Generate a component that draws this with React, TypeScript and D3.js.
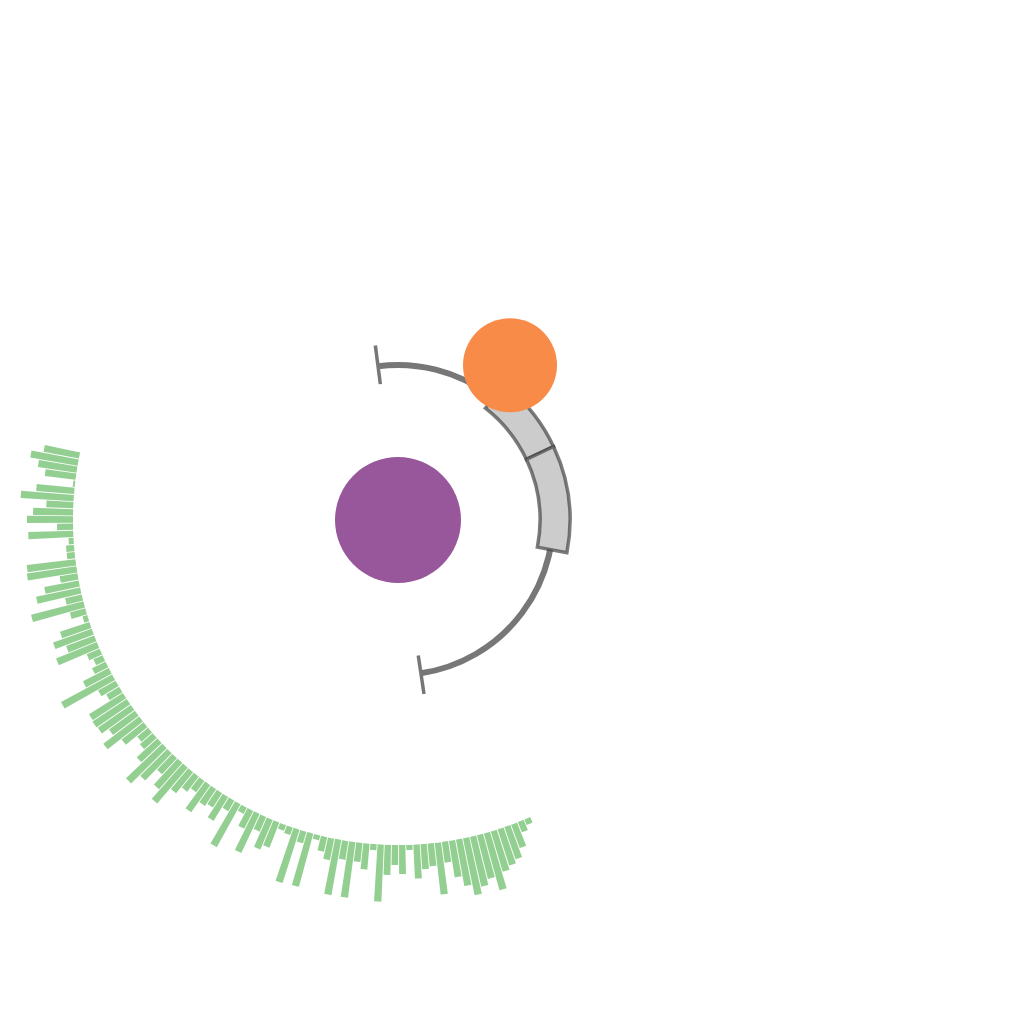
import * as d3 from "d3";

const W = 1024;
const H = 1024;
const CX = 398;
const CY = 520;

// radial bars, clockwise from bottom-right to upper-left
const barValues = [
	6, 11, 25, 34, 38, 42, 59, 45, 51, 58,
	47, 37, 21, 52, 23, 25, 34, 5, 29, 20,
	30, 57, 6, 26, 19, 56, 19, 56, 22, 15,
	5, 55, 12, 56, 8, 6, 27, 32, 16, 43,
	20, 7, 49, 12, 28, 17, 20, 33, 14, 19,
	27, 47, 35, 22, 38, 50, 28, 17, 14, 28,
	45, 32, 40, 41, 40, 15, 20, 58, 29, 15,
	10, 14, 44, 30, 41, 31, 5, 16, 54, 17,
	45, 35, 18, 50, 49, 8, 8, 5, 45, 16,
	46, 40, 27, 53, 38, 2, 31, 39, 48, 36,
];
const barAngleRange = [156, 282]; // degrees

// range arc with end caps
const rangeStart = -7.4;
const rangeEnd = 171.5;

// highlighted bands on the range arc
const bandStarts = [38, 64.7];
const bandEnds = [64.7, 101];

// markers
const markerAngles = [0, 35.9];
const markerDistances = [0, 191];
const markerRadii = [63, 47];
const markerColors = ["#98569b", "#f88b48"];

const rad = (deg: number) => (deg * Math.PI) / 180;

export default function App() {
	const angle = d3
		.scaleBand<number>()
		.domain(d3.range(barValues.length))
		.range([rad(barAngleRange[0]), rad(barAngleRange[1])])
		.paddingInner(0.12);

	const radius = d3.scaleLinear().domain([0, 60]).range([325, 385]);

	const barArc = d3
		.arc<number>()
		.innerRadius(radius(0))
		.outerRadius((d) => radius(d))
		.startAngle((_, i) => angle(i) as number)
		.endAngle((_, i) => (angle(i) as number) + angle.bandwidth());

	const rangeR = 155;
	const rangePath = d3.path();
	rangePath.arc(0, 0, rangeR, rad(rangeStart) - Math.PI / 2, rad(rangeEnd) - Math.PI / 2);

	const capIn = 137;
	const capOut = 176;
	const capLine = (deg: number) => {
		const a = rad(deg);
		return {
			x1: capIn * Math.sin(a),
			y1: -capIn * Math.cos(a),
			x2: capOut * Math.sin(a),
			y2: -capOut * Math.cos(a),
		};
	};

	const bandArc = d3.arc<{ s: number; e: number }>()
		.innerRadius(142)
		.outerRadius(172)
		.startAngle((d) => rad(d.s))
		.endAngle((d) => rad(d.e));

	const bands = bandStarts.map((s, i) => ({ s, e: bandEnds[i] }));

	return (
		<svg
			width={W}
			height={H}
			style={{ position: "absolute", left: 0, top: 0, background: "#fff" }}
		>
			<g transform={`translate(${CX},${CY})`}>
				{barValues.map((v, i) => (
					<path
						key={i}
						d={barArc(v, i) ?? ""}
						fill="#4daf4a"
						fillOpacity={0.6}
					/>
				))}

				<path
					d={rangePath.toString()}
					fill="none"
					stroke="#777"
					strokeWidth={6}
				/>
				{[rangeStart, rangeEnd].map((deg, i) => {
					const l = capLine(deg);
					return <line key={i} {...l} stroke="#777" strokeWidth={3.5} />;
				})}

				{bands.map((b, i) => (
					<path
						key={i}
						d={bandArc(b) ?? ""}
						fill="#ccc"
						stroke="#444"
						strokeOpacity={0.7}
						strokeWidth={3.5}
					/>
				))}

				{markerAngles.map((deg, i) => (
					<circle
						key={i}
						cx={markerDistances[i] * Math.sin(rad(deg))}
						cy={-markerDistances[i] * Math.cos(rad(deg))}
						r={markerRadii[i]}
						fill={markerColors[i]}
					/>
				))}
			</g>
		</svg>
	);
}
